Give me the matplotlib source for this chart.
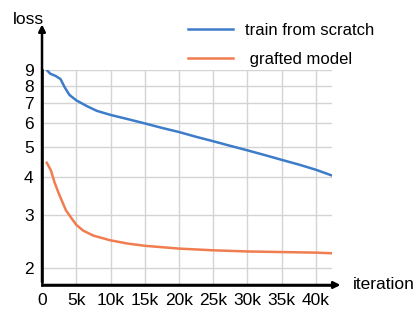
import numpy as np
import matplotlib.pyplot as plt
from matplotlib.ticker import FixedLocator, NullLocator

plt.rcParams['font.family'] = ['Liberation Sans', 'DejaVu Sans']

# iteration (in thousands) and loss values
scratch_iter = [0.7, 1.2, 2.0, 2.7, 3.3, 4.0, 5.0, 6.5, 8.0, 10, 12.5, 15, 17.5, 20, 22.5, 25, 27.5, 30, 32.5, 35, 37.5, 40, 42.2]
scratch_loss = [9.0, 8.75, 8.6, 8.4, 7.9, 7.45, 7.15, 6.85, 6.6, 6.4, 6.2, 6.0, 5.8, 5.62, 5.42, 5.24, 5.06, 4.89, 4.72, 4.55, 4.39, 4.22, 4.05]

grafted_iter = [0.7, 1.3, 1.8, 2.5, 3.5, 4.5, 5.0, 6.0, 7.5, 10, 12.5, 15, 20, 25, 30, 35, 40, 42.2]
grafted_loss = [4.45, 4.2, 3.85, 3.5, 3.1, 2.88, 2.78, 2.66, 2.56, 2.47, 2.41, 2.37, 2.32, 2.29, 2.27, 2.26, 2.25, 2.24]

x_ticks = [0, 5, 10, 15, 20, 25, 30, 35, 40]
x_labels = ['0', '5k', '10k', '15k', '20k', '25k', '30k', '35k', '40k']
y_ticks = [2, 3, 4, 5, 6, 7, 8, 9]

fig = plt.figure(figsize=(4.16, 3.09), dpi=100)
ax = fig.add_axes([0.101, 0.0777, 0.6964, 0.6958])

ax.plot(scratch_iter, scratch_loss, color='#3d7cc9', lw=1.8, label='train from scratch')
ax.plot(grafted_iter, grafted_loss, color='#f07d4f', lw=1.8, label=' grafted model')

ax.set_yscale('log')
ax.set_xlim(0, 42.3)
ax.set_ylim(1.76, 9.0)
ax.yaxis.set_major_locator(FixedLocator(y_ticks))
ax.yaxis.set_minor_locator(NullLocator())
ax.set_yticklabels([str(v) for v in y_ticks])
ax.set_xticks(x_ticks)
ax.set_xticklabels(x_labels)
ax.tick_params(length=0, labelsize=12.5, pad=6)
ax.grid(True, color='#d4d4d4', lw=1)

for s in ['top', 'right']:
    ax.spines[s].set_visible(False)
for s in ['left', 'bottom']:
    ax.spines[s].set_linewidth(1.8)

# axis arrows
ax.annotate('', xy=(0, 1.225), xytext=(0, 0), xycoords='axes fraction',
            arrowprops=dict(arrowstyle='-|>', color='black', lw=1.8, mutation_scale=10), annotation_clip=False)
ax.annotate('', xy=(1.04, 0), xytext=(0, 0), xycoords='axes fraction',
            arrowprops=dict(arrowstyle='-|>', color='black', lw=1.8, mutation_scale=10), annotation_clip=False)
fig.text(0.03, 0.938, 'loss', fontsize=12.5, va='center')
fig.text(0.848, 0.08, 'iteration', fontsize=12.5, va='center')

ax.legend(loc='upper left', bbox_to_anchor=(0.504, 1.22), frameon=False, fontsize=12,
          handlelength=2.7, labelspacing=0.86, handletextpad=0.72, borderpad=0, borderaxespad=0)

fig.savefig('out.png', dpi=100)
